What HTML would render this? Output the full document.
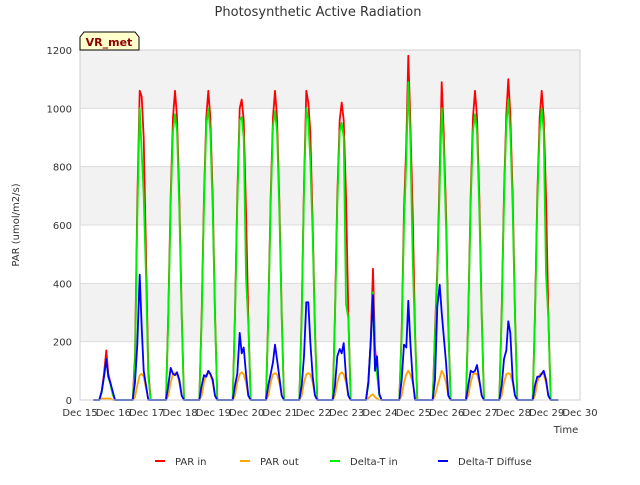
<!DOCTYPE html>
<html><head><meta charset="utf-8"><style>
body{margin:0;background:#fff;font-family:"Liberation Sans","DejaVu Sans",sans-serif}
svg text{font-family:"DejaVu Sans","Liberation Sans",sans-serif}
</style></head><body>
<svg id="c" width="640" height="480" xmlns="http://www.w3.org/2000/svg">
<text x="318" y="16" text-anchor="middle" font-size="13" fill="#333">Photosynthetic Active Radiation</text>
<g id="grid"></g>
<g id="series"></g>
<g id="axes"></g>
<text x="19" y="225" transform="rotate(-90 19 225)" text-anchor="middle" font-size="10" fill="#333">PAR (umol/m2/s)</text>
<text x="566" y="433" text-anchor="middle" font-size="10" fill="#333">Time</text>
<g>
<path d="M80,50 L80,37 L84,32 L135,32 L139,37 L139,50 Z" fill="#ffffcc" stroke="#000" stroke-width="1"/>
<text x="109" y="46" text-anchor="middle" font-size="11" font-weight="bold" fill="#8b0000">VR_met</text>
</g>
<g id="legend"></g>
</svg>
<script>
const X0=80,X1=580,Y0=400,Y1=50,DMIN=0,DMAX=15,VMAX=1200;
const xs=d=>X0+(d-DMIN)/(DMAX-DMIN)*(X1-X0);
const ys=v=>Y0-v/VMAX*(Y0-Y1);
const xTickLabels=["Dec 15","Dec 16","Dec 17","Dec 18","Dec 19","Dec 20","Dec 21","Dec 22","Dec 23","Dec 24","Dec 25","Dec 26","Dec 27","Dec 28","Dec 29","Dec 30"];
const yTicks=[0,200,400,600,800,1000,1200];
const dayOffsets=[0.58,0.65,0.72,0.79,0.85,0.91,0.98,1.05,1.12];
const parIn=[
[0,30,90,170,90,60,20,0,0],
[0,150,680,1060,1040,900,500,100,0],
[0,300,700,970,1060,970,700,300,0],
[0,300,700,970,1060,970,700,300,0],
[0,300,700,1000,1030,960,650,280,0],
[0,300,700,970,1060,970,690,300,0],
[0,300,740,1060,1020,920,600,240,0],
[0,300,700,960,1020,960,700,300,0],
[0,60,200,450,180,100,20,0,0],
[0,240,650,880,1180,960,640,240,0],
[0,240,450,780,1090,920,650,260,0],
[0,300,700,970,1060,970,700,300,0],
[0,310,710,980,1100,980,700,300,0],
[0,300,700,970,1060,970,700,300,0]];
const parOut=[
[0,5,5,5,5,5,0,0,0],
[0,10,50,85,90,80,40,5,0],
[0,15,60,88,92,88,60,15,0],
[0,15,60,88,92,88,60,15,0],
[0,15,60,88,95,88,60,15,0],
[0,15,60,88,92,88,60,15,0],
[0,15,60,88,92,88,60,15,0],
[0,15,60,88,95,88,60,15,0],
[0,5,15,20,10,5,0,0,0],
[0,15,60,88,100,88,60,15,0],
[0,15,45,75,100,88,60,15,0],
[0,15,60,88,92,88,60,15,0],
[0,15,60,88,92,88,60,15,0],
[0,15,60,88,92,88,60,15,0]];
const dtIn=[
[0,25,80,140,80,55,20,0,0],
[0,120,630,1000,850,700,420,80,0],
[0,280,670,920,980,920,650,280,0],
[0,280,670,940,1000,920,650,280,0],
[0,280,670,960,970,900,420,260,0],
[0,280,670,940,990,920,650,280,0],
[0,280,720,1000,960,820,560,220,0],
[0,280,670,920,950,900,330,280,0],
[0,50,180,370,150,90,15,0,0],
[0,220,600,820,1090,900,480,220,0],
[0,220,420,730,1000,870,600,240,0],
[0,280,670,920,980,920,650,280,0],
[0,290,680,940,1030,920,650,280,0],
[0,280,670,920,1000,920,430,280,0]];
const dtDiff=[
[0,30,80,140,80,60,30,0,0],
[0,60,190,430,250,100,50,0,0],
[0,50,110,90,85,95,70,15,0],
[0,50,85,80,100,90,70,15,0],
[0,50,90,230,160,180,90,15,0],
[0,50,90,130,190,140,80,15,0],
[0,50,150,335,335,200,80,15,0],
[0,50,150,175,160,195,80,15,0],
[0,60,200,360,100,150,20,0,0],
[0,70,190,180,340,200,70,0,0],
[0,70,320,395,300,220,130,15,0],
[0,50,100,95,100,120,70,15,0],
[0,50,140,170,270,230,70,15,0],
[0,50,80,80,90,100,70,15,0]];
const svg=document.getElementById('c');
const NS="http://www.w3.org/2000/svg";
function mk(tag,attrs,parent){const e=document.createElementNS(NS,tag);for(const k in attrs)e.setAttribute(k,attrs[k]);parent.appendChild(e);return e;}
const grid=document.getElementById('grid');
for(let i=0;i<yTicks.length-1;i++){
 const r=mk('rect',{x:X0,y:ys(yTicks[i+1]),width:X1-X0,height:ys(yTicks[i])-ys(yTicks[i+1]),fill:(i%2===1)?'#f2f2f2':'#ffffff'},grid);
 
 
}
yTicks.forEach(v=>{
 const l=mk('line',{x1:X0,x2:X1,y1:ys(v),y2:ys(v),stroke:'#dcdcdc','stroke-width':1},grid);
 
 
});
const ax=document.getElementById('axes');
const fr=mk('rect',{x:X0,y:Y1,width:X1-X0,height:Y0-Y1,fill:'none',stroke:'#d0d0d0'},ax);


yTicks.forEach(v=>{
 const t=mk('text',{x:X0-8,y:ys(v)+4,'text-anchor':'end','font-size':10,fill:'#333'},ax);
 t.textContent=v;
 
 
});
xTickLabels.forEach((s,i)=>{
 const t=mk('text',{x:xs(i),y:Y0+16,'text-anchor':'middle','font-size':10,fill:'#333'},ax);
 t.textContent=s;
 
 
});
const ser=document.getElementById('series');
function draw(data,color,name){
 const pts=[[0.4,0]];
 data.forEach((row,d)=>row.forEach((v,j)=>pts.push([d+dayOffsets[j],v])));
 pts.push([14.35,0]);
 const p=mk('polyline',{points:pts.map(q=>xs(q[0]).toFixed(1)+','+ys(q[1]).toFixed(1)).join(' '),fill:'none',stroke:color,'stroke-width':1.8,'stroke-linejoin':'round'},ser);
 
 
}
draw(parIn,'#ff0000','par-in-line');
draw(parOut,'#ffa500','par-out-line');
draw(dtIn,'#00ee00','delta-t-in-line');
draw(dtDiff,'#0000ff','delta-t-diffuse-line');
const lg=document.getElementById('legend');
[['PAR in','#ff0000',155],['PAR out','#ffa500',240],['Delta-T in','#00ee00',330],['Delta-T Diffuse','#0000ff',438]].forEach(([s,c,x])=>{
 const g=mk('g',{},lg);
 
 
 mk('line',{x1:x,x2:x+10,y1:461,y2:461,stroke:c,'stroke-width':2},g);
 const t=mk('text',{x:x+20,y:465,'font-size':10,fill:'#333'},g);
 t.textContent=s;
});
</script>
</body></html>
